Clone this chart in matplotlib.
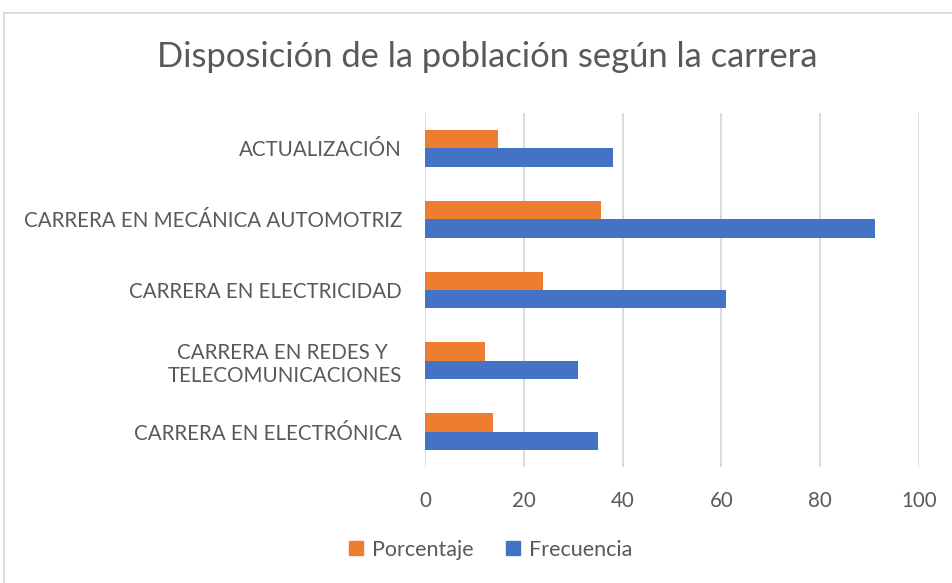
import matplotlib.pyplot as plt
import numpy as np
from matplotlib.lines import Line2D

categories = [
    "CARRERA EN ELECTRÓNICA",
    "CARRERA EN REDES Y \nTELECOMUNICACIONES",
    "CARRERA EN ELECTRICIDAD",
    "CARRERA EN MECÁNICA AUTOMOTRIZ",
    "ACTUALIZACIÓN",
]
frecuencia = [35, 31, 61, 91, 38]
porcentaje = [13.67, 12.11, 23.83, 35.55, 14.84]
x_ticks = [0, 20, 40, 60, 80, 100]

ORANGE = "#ED7D31"
BLUE = "#4472C4"
TEXT = "#595959"
GRID = "#D9D9D9"
FONT = ["Lato", "DejaVu Sans"]

plt.rcParams["font.family"] = FONT

fig = plt.figure(figsize=(9.52, 5.83), dpi=100)
ax = fig.add_axes([425 / 952, 1 - 467 / 583, 494 / 952, 354 / 583])

y = np.arange(len(categories))
h = 0.26
ax.barh(y + h / 2, porcentaje, height=h, color=ORANGE, label="Porcentaje", zorder=3)
ax.barh(y - h / 2, frecuencia, height=h, color=BLUE, label="Frecuencia", zorder=3)

ax.set_xlim(0, 100)
ax.set_ylim(-0.5, len(categories) - 0.5)
ax.set_xticks(x_ticks)
ax.set_yticks(y)
ax.set_yticklabels(categories, multialignment="center")
ax.tick_params(axis="both", length=0, labelsize=14.8, colors=TEXT)
ax.tick_params(axis="y", pad=16.5)
ax.tick_params(axis="x", pad=17)
ax.xaxis.grid(True, color=GRID, linewidth=1.3, zorder=0)
for s in ax.spines.values():
    s.set_visible(False)

fig.text(487 / 952, 1 - 57 / 583, "Disposición de la población según la carrera",
         ha="center", va="center", fontsize=24.8, color=TEXT)

handles = [
    Line2D([], [], marker="s", linestyle="none", markersize=10, color=ORANGE),
    Line2D([], [], marker="s", linestyle="none", markersize=10, color=BLUE),
]
leg = fig.legend(handles, ["Porcentaje", "Frecuencia"], loc="center",
                 bbox_to_anchor=(490 / 952, 1 - 550 / 583), ncol=2, frameon=False,
                 fontsize=15.5, handlelength=0.8, handletextpad=0.35,
                 columnspacing=1.4)
for t in leg.get_texts():
    t.set_color(TEXT)

# chart border
fig.add_artist(Line2D([4 / 952, 1], [1 - 13 / 583] * 2, color=GRID, linewidth=1.3))
fig.add_artist(Line2D([4 / 952] * 2, [0, 1 - 13 / 583], color=GRID, linewidth=1.3))

fig.savefig("out.png", dpi=100)
